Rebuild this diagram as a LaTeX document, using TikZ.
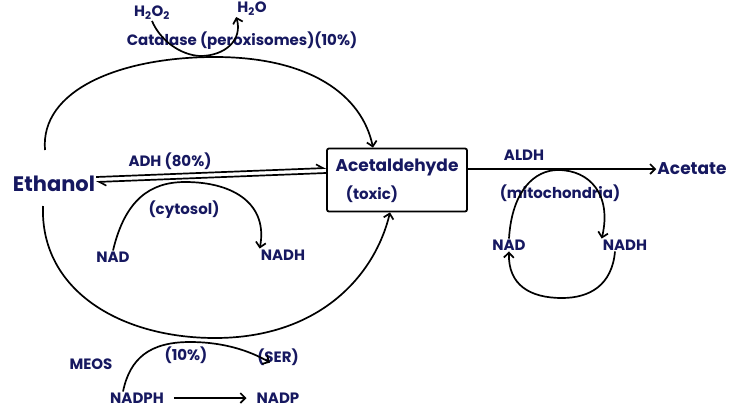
\documentclass[tikz,border=0pt]{standalone}
\usepackage{fontspec}
\setmainfont{Poppins}
\usetikzlibrary{arrows.meta}
\definecolor{ink}{RGB}{22,24,96}
\begin{document}
\begin{tikzpicture}[x=1pt,y=-1pt,
  lbl/.style={text=ink,inner sep=1pt,font=\fontsize{15}{17}\selectfont\bfseries},
  big/.style={text=ink,inner sep=1pt,font=\fontsize{17}{19}\selectfont\bfseries},
  ln/.style={line width=1.7pt,black},
  arr/.style={ln,-{Straight Barb[length=5pt,width=10pt,line width=1.7pt]}},
  harp/.style={ln,-{Straight Barb[left,length=7pt,width=8pt,line width=1.6pt]}},
  box/.style={draw,line width=1.8pt,rounded corners=2pt,minimum width=140pt,minimum height=63pt}]
\useasboundingbox (0,0) rectangle (732,416);
% nodes
\node[big,font=\fontsize{21}{23}\selectfont\bfseries] (eth) at (54,184) {Ethanol};
\node[box] (acet) at (397,180) {};
\node[big] (acett) at (397,167) {Acetaldehyde};
\node[lbl] (tox) at (372,194) {(toxic)};
\node[big] (acetate) at (692,169) {Acetate};
\node[lbl] (h2o2) at (152,13) {H\textsubscript{2}O\textsubscript{2}};
\node[lbl] (h2o) at (252,9) {H\textsubscript{2}O};
\node[lbl] (cat) at (242,41) {Catalase (peroxisomes)(10\%)};
\node[lbl] (adh) at (170,161) {ADH (80\%)};
\node[lbl] (cyt) at (184,210) {(cytosol)};
\node[lbl] (nad1) at (113,257) {NAD};
\node[lbl] (nadh1) at (283,255) {NADH};
\node[lbl] (meos) at (91,364) {MEOS};
\node[lbl] (ten) at (186,355) {(10\%)};
\node[lbl] (ser) at (278,357) {(SER)};
\node[lbl] (nadph) at (137,398) {NADPH};
\node[lbl] (nadp) at (278,398) {NADP};
\node[lbl] (aldh) at (524,155) {ALDH};
\node[lbl] (mito) at (560,193) {(mitochondria)};
\node[lbl] (nad2) at (509,245) {NAD};
\node[lbl] (nadh2) at (625,245) {NADH};
\coordinate (topstart) at (45,150);
\coordinate (botstart) at (43,206);
% big arcs
\draw[arr] (topstart) .. controls (40,90) and (120,57) .. (215,57) .. controls (310,57) and (362,95) .. ([xshift=-24pt]acet.north);
\draw[arr] (botstart) .. controls (40,290) and (120,338) .. (215,338) .. controls (320,338) and (375,275) .. ([xshift=-7pt]acet.south);
% catalase small curve
\draw[arr] (h2o2.south) .. controls (160,40) and (180,55) .. (200,56) .. controls (225,56) and (243,40) .. (h2o.south west);
% ADH double arrows
\draw[harp] ([yshift=7pt]eth.east) -- ([yshift=12pt]acet.west);
\draw[harp] ([yshift=7pt]acet.west) -- ([yshift=2pt]eth.east);
% cytosol NAD -> NADH
\draw[arr] (nad1.north) .. controls (125,200) and (150,182) .. (185,182) .. controls (235,182) and (268,205) .. (nadh1.north west);
% MEOS
\draw[arr] ([xshift=-14pt]nadph.north) .. controls (130,358) and (150,342) .. (190,342) .. controls (235,342) and (262,358) .. ([xshift=-8pt,yshift=4pt]ser.south);
\draw[arr,shorten <=9pt,shorten >=9pt] (nadph.east) -- (nadp.west);
% ALDH
\draw[arr] (acet.east |- acetate.west) -- (acetate.west);
% mitochondria cycle
\draw[arr] (nad2.north) .. controls (512,190) and (535,170) .. (558,170) .. controls (590,170) and (612,195) .. (nadh2.north west);
\draw[arr] ([xshift=-10pt]nadh2.south) .. controls (612,285) and (590,298) .. (562,298) .. controls (530,298) and (508,285) .. (nad2.south);
\end{tikzpicture}
\end{document}
